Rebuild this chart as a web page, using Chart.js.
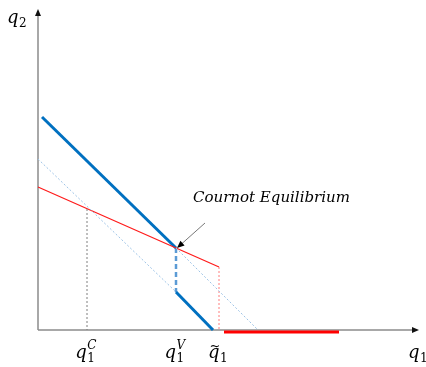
<!DOCTYPE html>
<html>
<head>
<meta charset="utf-8">
<script src="https://cdn.jsdelivr.net/npm/chart.js@4/dist/chart.umd.min.js"></script>
<style>
  html, body { margin: 0; padding: 0; background: #fff; }
  #wrap { width: 426px; height: 367px; }
</style>
</head>
<body>
<div id="wrap"><canvas id="cournot" width="426" height="367"></canvas></div>
<script>
// Points (q1 along x, q2 along y)
const upperReaction = [{x: 0.4, y: 21.3}, {x: 13.8, y: 8.2}];
const upperExtension = [{x: 13.8, y: 8.2}, {x: 22.0, y: 0}];
const lowerExtension = [{x: 0, y: 17.1}, {x: 13.8, y: 3.8}];
const lowerReaction = [{x: 13.8, y: 3.8}, {x: 17.5, y: 0}];
const jumpSegment = [{x: 13.8, y: 8.2}, {x: 13.8, y: 3.8}];
const firmTwoReaction = [{x: 0, y: 14.3}, {x: 13.8, y: 8.2}, {x: 18.1, y: 6.3}];
const firmTwoDrop = [{x: 18.1, y: 6.3}, {x: 18.1, y: 0}];
const firmTwoZero = [{x: 18.6, y: -0.2}, {x: 30.1, y: -0.2}];
const cournotGuide = [{x: 4.9, y: 12.1}, {x: 4.9, y: 0}];

// tick labels on the q1 axis
const tickValues = [4.9, 13.8, 18.1];
const tickSups = ['C', 'V', ''];
const tickTilde = [false, false, true];

const equilibrium = {x: 13.8, y: 8.2};
const arrowStart = {x: 16.7, y: 10.7};

const MATH = '"DejaVu Serif"';

function line(data, color, width, dash) {
    return {
        data: data,
        showLine: true,
        borderColor: color,
        backgroundColor: color,
        borderWidth: width,
        borderDash: dash || [],
        pointRadius: 0,
        tension: 0,
        clip: false
    };
}

// q with subscript, optional superscript and tilde
function drawQ(ctx, x, y, sub, sup, tilde, align) {
    ctx.save();
    ctx.fillStyle = '#000';
    ctx.textBaseline = 'alphabetic';
    ctx.font = 'italic 18px ' + MATH;
    const qw = ctx.measureText('q').width;
    ctx.font = '12px ' + MATH;
    const sw = ctx.measureText(sub).width;
    ctx.font = 'italic 12px ' + MATH;
    const pw = sup ? ctx.measureText(sup).width : 0;
    const total = qw + Math.max(sw, pw) + 1;
    let left = align === 'center' ? x - total / 2 : x;
    ctx.font = 'italic 18px ' + MATH;
    ctx.fillText('q', left, y);
    if (tilde) {
        ctx.font = '13px ' + MATH;
        ctx.fillText('~', left + 1.5, y - 8);
    }
    ctx.font = '12px ' + MATH;
    ctx.fillText(sub, left + qw + 0.5, y + 4);
    if (sup) {
        ctx.font = 'italic 12px ' + MATH;
        ctx.fillText(sup, left + qw + 0.5, y - 9);
    }
    ctx.restore();
}

const decorations = {
    id: 'decorations',
    beforeDatasetsDraw(chart) {
        const ctx = chart.ctx;
        const xs = chart.scales.x, ys = chart.scales.y;
        const ox = xs.getPixelForValue(0), oy = ys.getPixelForValue(0);
        const area = chart.chartArea;
        ctx.save();
        ctx.strokeStyle = '#8c8c8c';
        ctx.lineWidth = 1.5;
        ctx.beginPath();
        ctx.moveTo(ox, oy);
        ctx.lineTo(ox, area.top + 5);
        ctx.moveTo(ox, oy);
        ctx.lineTo(area.right - 5, oy);
        ctx.stroke();
        // arrow heads
        ctx.fillStyle = '#111';
        ctx.beginPath();
        ctx.moveTo(ox, area.top - 1);
        ctx.lineTo(ox - 3, area.top + 6);
        ctx.lineTo(ox + 3, area.top + 6);
        ctx.closePath();
        ctx.fill();
        ctx.beginPath();
        ctx.moveTo(area.right + 1, oy);
        ctx.lineTo(area.right - 6, oy - 3);
        ctx.lineTo(area.right - 6, oy + 3);
        ctx.closePath();
        ctx.fill();
        ctx.restore();
    },
    afterDatasetsDraw(chart) {
        const ctx = chart.ctx;
        const xs = chart.scales.x, ys = chart.scales.y;
        const oy = ys.getPixelForValue(0);

        // annotation arrow
        const x1 = xs.getPixelForValue(arrowStart.x), y1 = ys.getPixelForValue(arrowStart.y);
        const x2 = xs.getPixelForValue(equilibrium.x) + 1, y2 = ys.getPixelForValue(equilibrium.y);
        const ang = Math.atan2(y2 - y1, x2 - x1);
        ctx.save();
        ctx.strokeStyle = '#555';
        ctx.lineWidth = 0.8;
        ctx.beginPath();
        ctx.moveTo(x1, y1);
        ctx.lineTo(x2 - 4 * Math.cos(ang), y2 - 4 * Math.sin(ang));
        ctx.stroke();
        ctx.fillStyle = '#000';
        ctx.beginPath();
        ctx.moveTo(x2, y2);
        ctx.lineTo(x2 - 8 * Math.cos(ang - 0.4), y2 - 8 * Math.sin(ang - 0.4));
        ctx.lineTo(x2 - 8 * Math.cos(ang + 0.4), y2 - 8 * Math.sin(ang + 0.4));
        ctx.closePath();
        ctx.fill();

        ctx.fillStyle = '#000';
        ctx.font = 'italic 15px ' + MATH;
        ctx.textBaseline = 'alphabetic';
        ctx.fillText('Cournot Equilibrium', xs.getPixelForValue(15.5), ys.getPixelForValue(12.8));
        ctx.restore();

        // axis labels
        drawQ(ctx, 7, 23, '2', '', false, 'left');
        drawQ(ctx, chart.chartArea.right - 10, oy + 28, '1', '', false, 'left');
        tickValues.forEach((v, i) => {
            drawQ(ctx, xs.getPixelForValue(v) - 1, oy + 28, '1', tickSups[i], tickTilde[i], 'center');
        });
    }
};

new Chart(document.getElementById('cournot'), {
    type: 'scatter',
    data: {
        datasets: [
            line(upperExtension, '#9dc3e6', 1, [2, 2]),
            line(lowerExtension, '#9dc3e6', 1, [2, 2]),
            line(cournotGuide, '#7f7f7f', 1, [2, 2]),
            line(firmTwoDrop, '#ff7c7c', 1, [2, 2]),
            line(firmTwoReaction, '#ff1a1a', 1.2),
            line(upperReaction, '#0070c0', 3),
            line(lowerReaction, '#0070c0', 3),
            line(jumpSegment, '#5b9bd5', 2.5, [5, 3]),
            line(firmTwoZero, '#ff0000', 3)
        ]
    },
    options: {
        responsive: false,
        animation: false,
        layout: { padding: { left: 38, right: 8, top: 10, bottom: 37 } },
        plugins: { legend: { display: false }, tooltip: { enabled: false } },
        scales: {
            x: { type: 'linear', min: 0, max: 38, display: false },
            y: { type: 'linear', min: 0, max: 32, display: false }
        }
    },
    plugins: [decorations]
});
</script>
</body>
</html>
